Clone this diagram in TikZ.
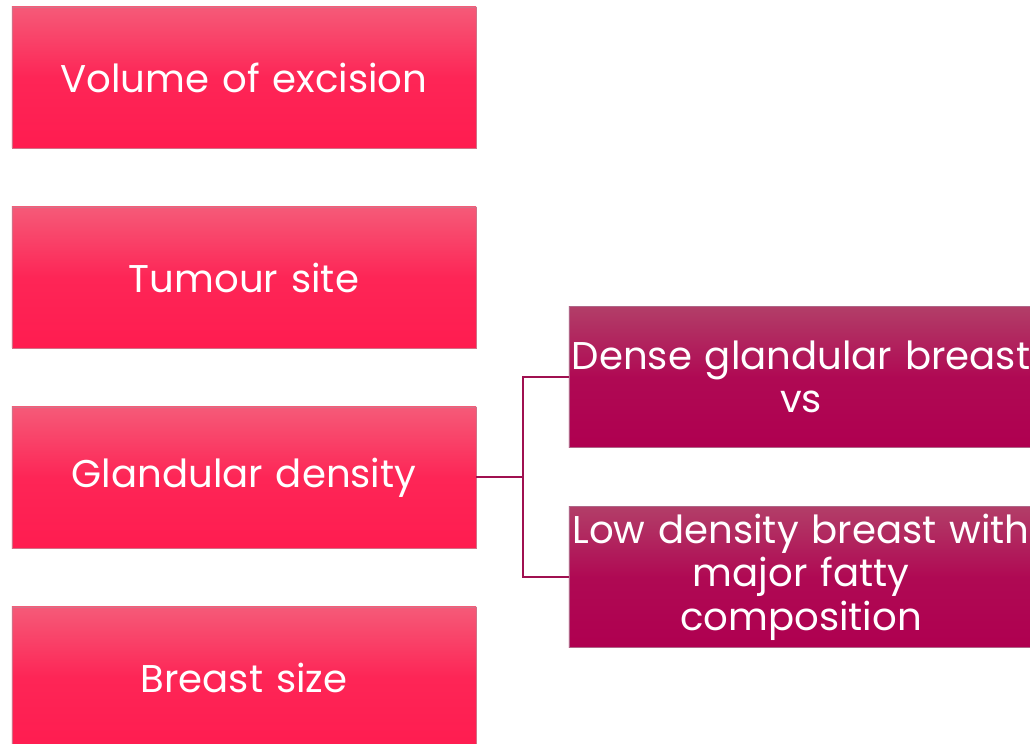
\documentclass[tikz,border=0pt]{standalone}
\usepackage{fontspec}
\setmainfont{Poppins}
\usepackage{tikz}
\usetikzlibrary{positioning}
\definecolor{pinktop}{RGB}{245,90,120}
\definecolor{pinkbot}{RGB}{255,28,80}
\definecolor{plumtop}{RGB}{178,62,104}
\definecolor{plumbot}{RGB}{175,0,80}
\definecolor{linkcol}{RGB}{160,16,80}
\tikzset{
  box/.style={rectangle,text width=116mm,minimum height=35.25mm,inner sep=0,
    text=white,font=\fontsize{27.5}{31}\selectfont,align=center},
  box left/.style={box,top color=pinktop,bottom color=pinkbot,middle color=pinkbot!85!pinktop,
    draw=pinkbot!70!black!60,line width=0.4pt},
  box right/.style={box,top color=plumtop,bottom color=plumbot,middle color=plumbot!85!plumtop,
    draw=plumbot!70!black!60,line width=0.4pt},
  link/.style={draw=linkcol,line width=0.5mm}
}
\begin{document}
\begin{tikzpicture}[x=0.25mm,y=-0.25mm]
  \useasboundingbox (0,0) rectangle (1030,744);
  \clip (0,0) rectangle (1030,744);

  % left column
  \node[box left] (vol)   at (244,77.5)  {Volume of excision};
  \node[box left] (site)  at (244,277.5) {Tumour site};
  \node[box left] (gland) at (244,477.5) {Glandular density};
  \node[box left] (size)  at (244,677.5) {Breast size};

  % right column
  \node[box right] (dense) at (801,377) {Dense glandular breast\\vs};
  \node[box right] (fatty) at (801,577) {Low density breast with\\major fatty\\composition};

  % connectors
  \coordinate (split) at (523,477.5);
  \draw[link] (gland.east) -- (split);
  \draw[link] (split) |- (dense.west);
  \draw[link] (split) |- (fatty.west);
\end{tikzpicture}
\end{document}
